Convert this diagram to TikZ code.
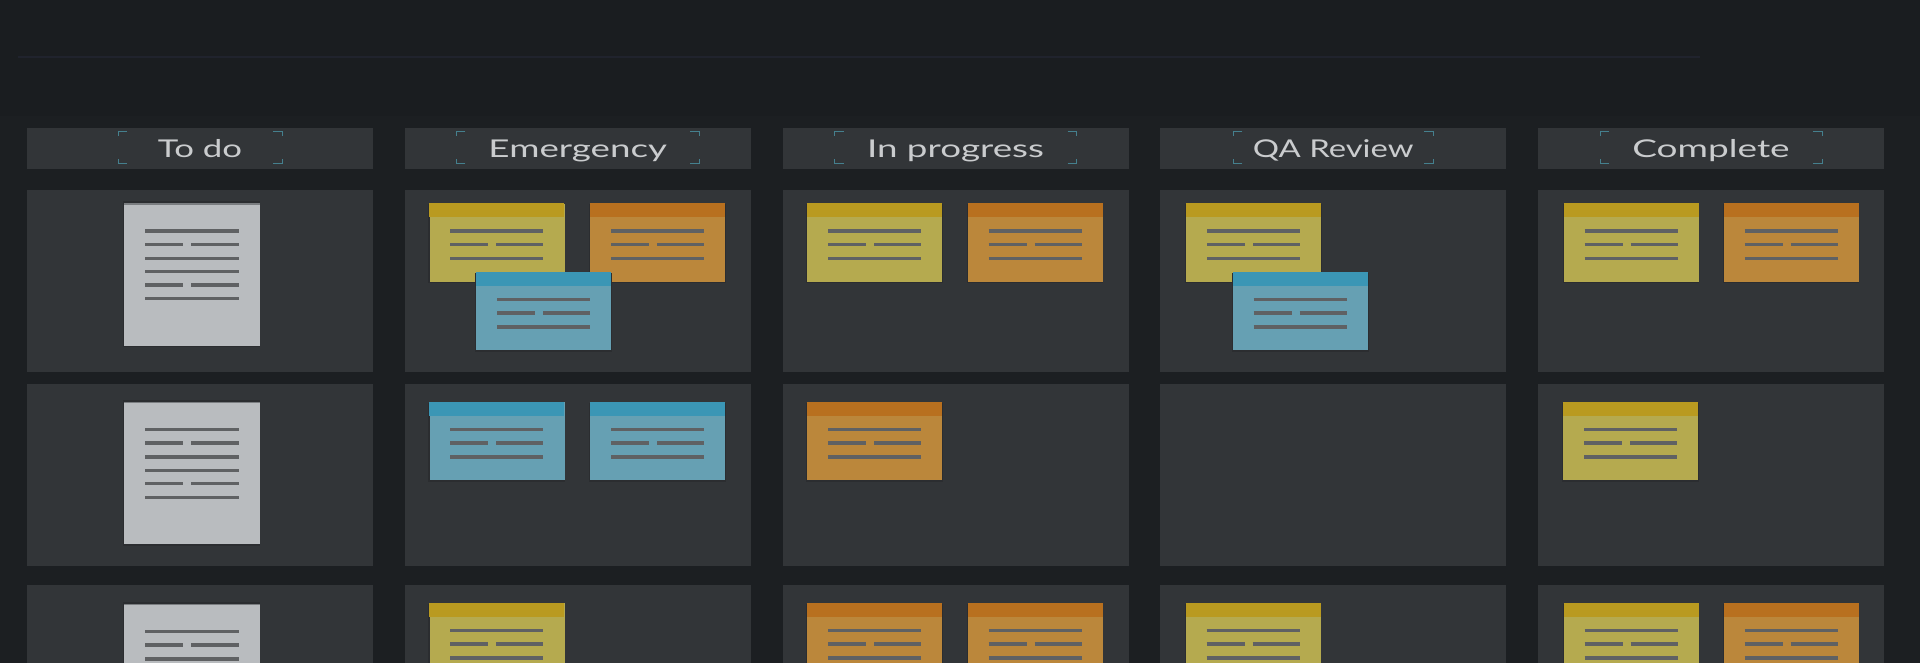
\documentclass[tikz,border=0pt]{standalone}
\usepackage{fontspec}
\setmainfont{Lato}
\definecolor{bg}{HTML}{1C1F22}
\definecolor{band}{HTML}{1A1D20}
\definecolor{bandline}{HTML}{20232D}
\definecolor{panel}{HTML}{323538}
\definecolor{shadowc}{HTML}{2B2D30}
\definecolor{docc}{HTML}{B9BCBF}
\definecolor{docedge}{HTML}{7A7D80}
\definecolor{lineg}{HTML}{5F6163}
\definecolor{yhead}{HTML}{B99A20}
\definecolor{ybody}{HTML}{B5AA4F}
\definecolor{ohead}{HTML}{B8701F}
\definecolor{obody}{HTML}{BB873B}
\definecolor{bhead}{HTML}{3B96B5}
\definecolor{bbody}{HTML}{66A0B3}
\definecolor{brk}{HTML}{45808E}
\definecolor{txt}{HTML}{CACCCE}
\tikzset{
  x=1pt, y=-1pt,
  txtline/.style={draw=lineg, line width=3.2pt},
  bracket/.style={draw=brk, line width=1pt},
  headtext/.style={text=txt, font=\fontsize{24.5}{28}\selectfont, inner sep=0pt, anchor=base},
  pics/note/.style 2 args={code={
    \fill[shadowc] (-1,0.5) rectangle (135.8,80);
    \node[fill=#2, minimum width=135pt, minimum height=78pt, inner sep=0pt, anchor=north west] (-body) at (0,0) {};
    \fill[#1] (0,0) rectangle (135,14);
    \draw[txtline] (21,27.7) -- (114,27.7);
    \draw[txtline] (21,41) -- (59,41) (67,41) -- (114,41);
    \draw[txtline] (21,55) -- (114,55);
  }},
  pics/doc/.style={code={
    \fill[shadowc] (-1,-2) rectangle (136.3,143.8);
    \node[fill=docc, minimum width=135.5pt, minimum height=142pt, inner sep=0pt, anchor=north west] (-body) at (0,0) {};
    \fill[docedge] (0,0) rectangle (135.5,1.2);
    \draw[txtline] (21,27.7) -- (114.5,27.7);
    \draw[txtline] (21,41) -- (59,41) (67,41) -- (114.5,41);
    \draw[txtline] (21,55) -- (114.5,55);
    \draw[txtline] (21,68.3) -- (114.5,68.3);
    \draw[txtline] (21,81.7) -- (59,81.7) (67,81.7) -- (114.5,81.7);
    \draw[txtline] (21,95.4) -- (114.5,95.4);
  }}
}
\begin{document}
\begin{tikzpicture}
\useasboundingbox (0,0) rectangle (1920,662);
\clip (-2,-2) rectangle (1922,664);
\fill[bg] (-2,-2) rectangle (1922,664);
\fill[band] (-2,-2) rectangle (1922,116);
\draw[bandline, line width=2pt] (18,57) -- (1700,57);
% columns
\foreach \i/\t/\bw/\sx in {0/To do/82/1.42,1/Emergency/121.5/1.50,2/In progress/121/1.50,3/QA Review/100/1.34,4/Complete/111/1.51}{
  \pgfmathsetmacro{\Lx}{27+377.75*\i}
  \pgfmathsetmacro{\Cx}{\Lx+173}
  \node[fill=panel, minimum width=346pt, minimum height=41pt, inner sep=0pt, anchor=north west] (h\i) at (\Lx,127.3) {};
  \node[headtext] (t\i) at (\Cx,157) {\scalebox{\sx}[1]{\t}};
  \draw[bracket] (\Cx-\bw+9,131) -- (\Cx-\bw,131) -- (\Cx-\bw,136);
  \draw[bracket] (\Cx-\bw+9,163.5) -- (\Cx-\bw,163.5) -- (\Cx-\bw,158.5);
  \draw[bracket] (\Cx+\bw-9,131) -- (\Cx+\bw,131) -- (\Cx+\bw,136);
  \draw[bracket] (\Cx+\bw-9,163.5) -- (\Cx+\bw,163.5) -- (\Cx+\bw,158.5);
  \node[fill=panel, minimum width=346pt, minimum height=182pt, inner sep=0pt, anchor=north west] (pa\i) at (\Lx,190) {};
  \node[fill=panel, minimum width=346pt, minimum height=182pt, inner sep=0pt, anchor=north west] (pb\i) at (\Lx,384) {};
  \node[fill=panel, minimum width=346pt, minimum height=182pt, inner sep=0pt, anchor=north west] (pc\i) at (\Lx,585) {};
}
% documents
\pic (da) at (124,203.3) {doc};
\pic (db) at (124,402) {doc};
\pic (dc) at (124,604) {doc};
% row 1
\pic (n11) at (429.3,203.3) {note={yhead}{ybody}};
\pic (n12) at (590,203.3) {note={ohead}{obody}};
\pic (n13) at (476,272) {note={bhead}{bbody}};
\pic (n21) at (807,203.3) {note={yhead}{ybody}};
\pic (n22) at (967.5,203.3) {note={ohead}{obody}};
\pic (n31) at (1186,203.3) {note={yhead}{ybody}};
\pic (n32) at (1232.7,272) {note={bhead}{bbody}};
\pic (n41) at (1563.5,203.3) {note={yhead}{ybody}};
\pic (n42) at (1723.5,203.3) {note={ohead}{obody}};
% row 2
\pic (m11) at (429.3,402) {note={bhead}{bbody}};
\pic (m12) at (590,402) {note={bhead}{bbody}};
\pic (m21) at (807,402) {note={ohead}{obody}};
\pic (m41) at (1563,402) {note={yhead}{ybody}};
% row 3
\pic (k11) at (429.3,603) {note={yhead}{ybody}};
\pic (k21) at (807,603) {note={ohead}{obody}};
\pic (k22) at (967.5,603) {note={ohead}{obody}};
\pic (k31) at (1185.5,603) {note={yhead}{ybody}};
\pic (k41) at (1563.5,603) {note={yhead}{ybody}};
\pic (k42) at (1723.5,603) {note={ohead}{obody}};
\end{tikzpicture}
\end{document}
